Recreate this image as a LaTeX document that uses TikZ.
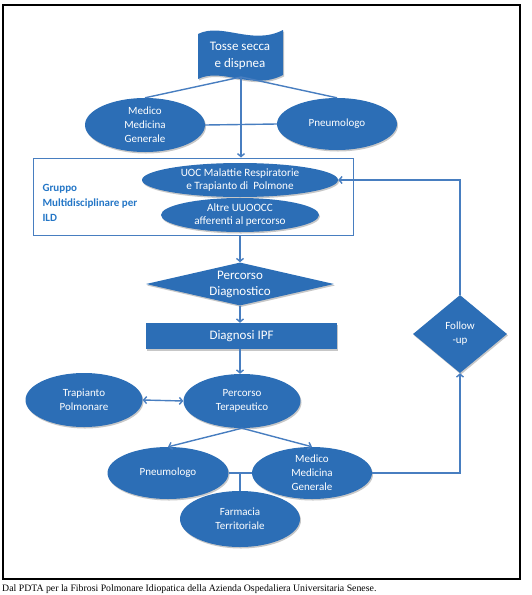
\documentclass[tikz,border=0pt]{standalone}
\usepackage{fontspec}
\setmainfont{Carlito}
\newfontfamily\capfont{Liberation Serif}
\usepackage{tikz}
\usetikzlibrary{shapes.geometric}
\usetikzlibrary{arrows.meta}
\usetikzlibrary{shadows}
\usetikzlibrary{positioning}

\definecolor{boxblue}{RGB}{44,110,182}
\definecolor{lineblue}{RGB}{72,126,192}
\definecolor{labelblue}{RGB}{36,118,198}

\begin{document}
\begin{tikzpicture}[x=1pt, y=-1pt,
	shade/.style={drop shadow={shadow xshift=1pt, shadow yshift=-1.5pt, fill=black, opacity=.22}},
	oval/.style={ellipse, fill=boxblue, text=white, align=center, inner sep=0pt, font=\fontsize{11}{14}\selectfont, shade},
	rhomb/.style={diamond, fill=boxblue, text=white, align=center, inner sep=0pt, shade},
	line/.style={draw=lineblue, line width=1.4pt},
	arr/.style={line, -{Straight Barb[length=3pt, width=7pt]}},
	arrs/.style={line, {Straight Barb[length=3pt, width=7pt]}-{Straight Barb[length=3pt, width=7pt]}}]
	\useasboundingbox (0,0) rectangle (531,595);
	\draw[line width=1.3pt] (3,5) rectangle (520,579);
	% first visit
	\fill[boxblue, shade] (198,34) .. controls (222,22) and (252,46) .. (283,30) -- (283,75) .. controls (252,91) and (222,67) .. (198,79) -- cycle;
	\node[text=white, align=center, font=\fontsize{13}{17}\selectfont] (tosse) at (240,56) {Tosse secca\\e dispnea};
	\coordinate (tosseb) at (241,77);
	\node[oval, minimum width=120pt, minimum height=54pt] (mmg1) at (145,125) {Medico\\Medicina\\Generale};
	\node[oval, minimum width=120pt, minimum height=52pt] (pneumo1) at (337,124) {Pneumologo};
	% group
	\node[draw=lineblue, line width=1pt, minimum width=320pt, minimum height=77pt] (group) at (193,196.5) {};
	\node[oval, minimum width=196pt, minimum height=34pt, font=\fontsize{11.2}{13.5}\selectfont] (uoc) at (240,180) {UOC Malattie Respiratorie\\e Trapianto di\ \ Polmone};
	\node[oval, minimum width=158pt, minimum height=34pt, font=\fontsize{11.2}{13.5}\selectfont] (altre) at (240,215) {Altre UUOOCC\\afferenti al percorso};
	\node[anchor=west, align=left, text=labelblue, font=\fontsize{11}{15}\selectfont\bfseries] (gmlabel) at (39,203) {Gruppo\\Multidisciplinare per\\ILD};
	% diagnosis
	\node[rhomb, shape aspect=4.4, minimum width=188pt, minimum height=43pt, font=\fontsize{13}{16}\selectfont] (diagn) at (240,284) {Percorso\\Diagnostico};
	\node[fill=boxblue, text=white, minimum width=191pt, minimum height=26pt, font=\fontsize{13}{16}\selectfont, shade] (ipf) at (241.5,336) {Diagnosi IPF};
	% therapy
	\node[oval, minimum width=117pt, minimum height=54pt] (terap) at (242,401) {Percorso\\Terapeutico};
	\node[oval, minimum width=117pt, minimum height=54pt] (trap) at (84,400) {Trapianto\\Polmonare};
	\node[oval, minimum width=121pt, minimum height=52pt] (pneumo2) at (168,473) {Pneumologo};
	\node[oval, minimum width=120pt, minimum height=52pt] (mmg2) at (312,473) {Medico\\Medicina\\Generale};
	\node[oval, minimum width=120pt, minimum height=56pt] (farm) at (240,519) {Farmacia\\Territoriale};
	\node[rhomb, shape aspect=1.2, minimum width=94pt, minimum height=78pt, font=\fontsize{11}{14}\selectfont] (follow) at (460,334) {Follow\\-up};
	% connectors
	\draw[line] (tosseb) -- (mmg1.north);
	\draw[line] (tosseb) -- (pneumo1.north);
	\draw[line] (mmg1.east) -- (pneumo1.west);
	\draw[arr] (tosseb) -- (group.north -| tosseb);
	\draw[arr] (group.south -| diagn.north) -- (diagn.north);
	\draw[arr] (diagn.south) -- (diagn.south |- ipf.north);
	\draw[arr] (diagn.south |- ipf.south) -- (diagn.south |- terap.north);
	\draw[arrs] (trap.east) -- (terap.west);
	\draw[arr] (terap.south) -- (pneumo2.north);
	\draw[arr] (terap.south) -- (mmg2.north);
	\draw[line] (pneumo2.east) -- (mmg2.west);
	\draw[line] (farm.north |- pneumo2.east) -- (farm.north);
	\draw[arr] (mmg2.east) -| (follow.south);
	\draw[arr] (follow.north) |- (uoc.east);
	% source
	\node[anchor=west, inner sep=0pt, font=\capfont\fontsize{9.8}{11}\selectfont] (source) at (2,589) {Dal PDTA per la Fibrosi Polmonare Idiopatica della Azienda Ospedaliera Universitaria Senese.};
\end{tikzpicture}
\end{document}
